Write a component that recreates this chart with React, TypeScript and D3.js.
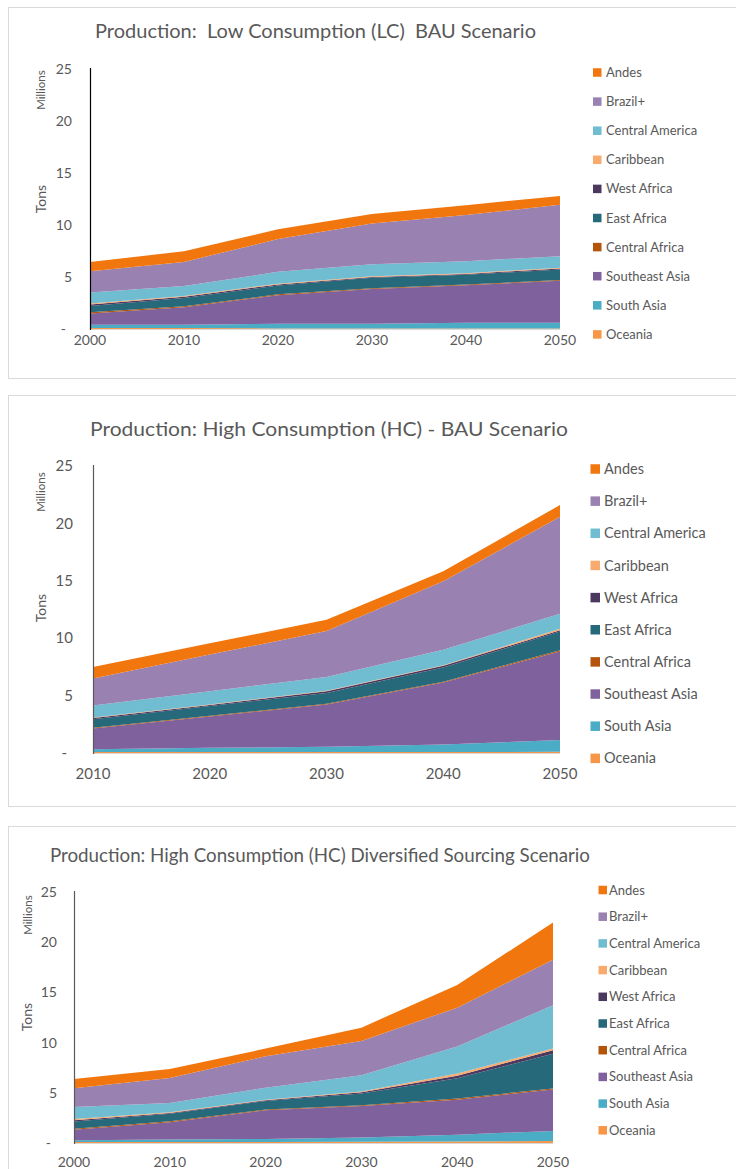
import React from "react";
import * as d3 from "d3";

// ---------- DATA ----------
const regions = ["Oceania", "South Asia", "Southeast Asia", "Central Africa", "East Africa", "West Africa", "Caribbean", "Central America", "Brazil+", "Andes"];
const legendOrder = ["Andes", "Brazil+", "Central America", "Caribbean", "West Africa", "East Africa", "Central Africa", "Southeast Asia", "South Asia", "Oceania"];
const yTicks = [0, 5, 10, 15, 20, 25];

// Chart 1: Low Consumption (LC) BAU
const lcYears = [2000, 2010, 2020, 2030, 2040, 2050];
const lcOceania = [0.1, 0.1, 0.05, 0.05, 0.05, 0.05];
const lcSouthAsia = [0.3, 0.3, 0.45, 0.45, 0.55, 0.55];
const lcSoutheastAsia = [1.1, 1.7, 2.75, 3.35, 3.6, 4.05];
const lcCentralAfrica = [0.1, 0.08, 0.08, 0.07, 0.07, 0.07];
const lcEastAfrica = [0.6, 0.8, 0.85, 1.0, 0.95, 1.0];
const lcWestAfrica = [0.15, 0.12, 0.1, 0.08, 0.08, 0.1];
const lcCaribbean = [0.1, 0.08, 0.07, 0.07, 0.07, 0.08];
const lcCentralAmerica = [1.05, 0.95, 1.15, 1.15, 1.15, 1.1];
const lcBrazil = [2.05, 2.32, 3.15, 3.93, 4.43, 4.95];
const lcAndes = [0.9, 1.02, 0.93, 0.91, 0.95, 0.85];

// Chart 2: High Consumption (HC) BAU
const hcYears = [2010, 2020, 2030, 2040, 2050];
const hcOceania = [0.08, 0.08, 0.08, 0.08, 0.1];
const hcSouthAsia = [0.24, 0.37, 0.47, 0.67, 1.03];
const hcSoutheastAsia = [1.82, 2.73, 3.67, 5.39, 7.72];
const hcCentralAfrica = [0.06, 0.06, 0.06, 0.06, 0.1];
const hcEastAfrica = [0.75, 0.86, 0.94, 1.24, 1.64];
const hcWestAfrica = [0.1, 0.08, 0.15, 0.15, 0.1];
const hcCaribbean = [0.05, 0.05, 0.05, 0.05, 0.13];
const hcCentralAmerica = [1.04, 1.15, 1.2, 1.36, 1.31];
const hcBrazil = [2.34, 3.19, 4.0, 5.96, 8.44];
const hcAndes = [1.02, 0.98, 0.98, 0.87, 1.03];

// Chart 3: High Consumption (HC) Diversified Sourcing
const dsYears = [2000, 2010, 2020, 2030, 2040, 2050];
const dsOceania = [0.1, 0.1, 0.1, 0.12, 0.15, 0.2];
const dsSouthAsia = [0.17, 0.25, 0.3, 0.43, 0.68, 1.0];
const dsSoutheastAsia = [1.06, 1.71, 2.86, 3.14, 3.49, 4.12];
const dsCentralAfrica = [0.1, 0.1, 0.08, 0.07, 0.12, 0.12];
const dsEastAfrica = [0.7, 0.76, 0.85, 1.16, 2.0, 3.46];
const dsWestAfrica = [0.13, 0.08, 0.07, 0.14, 0.27, 0.34];
const dsCaribbean = [0.13, 0.06, 0.06, 0.06, 0.2, 0.16];
const dsCentralAmerica = [1.2, 0.92, 1.19, 1.62, 2.69, 4.31];
const dsBrazil = [1.86, 2.49, 3.13, 3.42, 3.88, 4.55];
const dsAndes = [0.92, 0.9, 0.76, 1.33, 2.26, 3.69];

const colors: Record<string, string> = {
  "Andes": "#F2760E",
  "Brazil+": "#9982B2",
  "Central America": "#70BCD1",
  "Caribbean": "#F9AB6F",
  "West Africa": "#4B385F",
  "East Africa": "#26697B",
  "Central Africa": "#B4540B",
  "Southeast Asia": "#7F619E",
  "South Asia": "#4BACC6",
  "Oceania": "#F79646",
};

function buildRows(years: number[], series: number[][]) {
  return years.map((y, i) => {
    const row: any = { year: y };
    regions.forEach((r, k) => (row[r] = series[k][i]));
    return row;
  });
}

const lcRows = buildRows(lcYears, [lcOceania, lcSouthAsia, lcSoutheastAsia, lcCentralAfrica, lcEastAfrica, lcWestAfrica, lcCaribbean, lcCentralAmerica, lcBrazil, lcAndes]);
const hcRows = buildRows(hcYears, [hcOceania, hcSouthAsia, hcSoutheastAsia, hcCentralAfrica, hcEastAfrica, hcWestAfrica, hcCaribbean, hcCentralAmerica, hcBrazil, hcAndes]);
const dsRows = buildRows(dsYears, [dsOceania, dsSouthAsia, dsSoutheastAsia, dsCentralAfrica, dsEastAfrica, dsWestAfrica, dsCaribbean, dsCentralAmerica, dsBrazil, dsAndes]);

const FONT = "Lato, 'Open Sans', sans-serif";
const GRAY = "#595959";

type Cfg = {
  title: string;
  titleX: number; titleY: number; titleLen: number; titleSize: number;
  panelTop: number; panelBottom: number;
  x0: number; x1: number; yTop: number; yBottom: number;
  axisColor: string;
  tickRight: number; tickSize: number; xLabelY: number;
  millionsX: number; millionsY: number; tonsX: number; tonsY: number;
  legSqX: number; legSq: number; legTextX: number; legY0: number; legStep: number; legSize: number;
  years: number[]; rows: any[];
};

const cfgs: Cfg[] = [
  {
    title: "Production:  Low Consumption (LC)  BAU Scenario",
    titleX: 95, titleY: 38, titleLen: 441, titleSize: 19,
    panelTop: 7.5, panelBottom: 378.5,
    x0: 90, x1: 560, yTop: 69, yBottom: 329, axisColor: "#000",
    tickRight: 72, tickSize: 14, xLabelY: 345,
    millionsX: 45, millionsY: 90, tonsX: 46, tonsY: 199,
    legSqX: 593, legSq: 8.5, legTextX: 606, legY0: 72.5, legStep: 29.1, legSize: 13,
    years: lcYears, rows: lcRows,
  },
  {
    title: "Production: High Consumption (HC) - BAU Scenario",
    titleX: 90, titleY: 436, titleLen: 478, titleSize: 20,
    panelTop: 395.5, panelBottom: 806.5,
    x0: 93, x1: 560, yTop: 466, yBottom: 753, axisColor: GRAY,
    tickRight: 73, tickSize: 15, xLabelY: 779,
    millionsX: 45, millionsY: 492, tonsX: 46, tonsY: 608,
    legSqX: 590.5, legSq: 9.5, legTextX: 604, legY0: 469, legStep: 32.15, legSize: 14.5,
    years: hcYears, rows: hcRows,
  },
  {
    title: "Production: High Consumption (HC) Diversified Sourcing Scenario",
    titleX: 50, titleY: 862, titleLen: 540, titleSize: 18.5,
    panelTop: 826.5, panelBottom: 1200,
    x0: 74, x1: 553, yTop: 892, yBottom: 1143, axisColor: GRAY,
    tickRight: 57, tickSize: 14, xLabelY: 1167,
    millionsX: 32, millionsY: 915, tonsX: 32, tonsY: 1017,
    legSqX: 598.5, legSq: 8.5, legTextX: 609, legY0: 890, legStep: 26.7, legSize: 13,
    years: dsYears, rows: dsRows,
  },
];

function Chart({ c }: { c: Cfg }) {
  const x = d3.scaleLinear().domain([c.years[0], c.years[c.years.length - 1]]).range([c.x0, c.x1]);
  const y = d3.scaleLinear().domain([0, 25]).range([c.yBottom, c.yTop]);
  const stack = d3.stack<any>().keys(regions);
  const layers = stack(c.rows);
  const area = d3
    .area<any>()
    .x((d) => x(d.data.year))
    .y0((d) => y(d[0]))
    .y1((d) => y(d[1]));
  const fmt = (v: number) => (v === 0 ? "-" : String(v));
  return (
    <g>
      <rect x={8.5} y={c.panelTop} width={740} height={c.panelBottom - c.panelTop} fill="#fff" stroke="#D9D9D9" strokeWidth={1} />
      <text x={c.titleX} y={c.titleY} fontFamily={FONT} fontSize={c.titleSize} fill={GRAY} textLength={c.titleLen} lengthAdjust="spacingAndGlyphs" style={{ whiteSpace: "pre" }}>
        {c.title}
      </text>
      {layers.map((l) => (
        <path key={l.key} d={area(l) || ""} fill={colors[l.key]} />
      ))}
      <line x1={c.x0} x2={c.x1} y1={c.yBottom + 0.5} y2={c.yBottom + 0.5} stroke="#D9D9D9" strokeWidth={1} />
      <line x1={c.x0 + 0.5} x2={c.x0 + 0.5} y1={c.yTop - 1} y2={c.yBottom + 1} stroke={c.axisColor} strokeWidth={1.2} />
      {yTicks.map((t) => (
        <text key={t} x={t === 0 ? c.tickRight - 6 : c.tickRight} y={y(t)} dy="0.35em" textAnchor="end" fontFamily={FONT} fontSize={c.tickSize} fill={GRAY}>
          {fmt(t)}
        </text>
      ))}
      {c.years.map((yr) => (
        <text key={yr} x={x(yr)} y={c.xLabelY} textAnchor="middle" fontFamily={FONT} fontSize={c.tickSize} fill={GRAY}>
          {yr}
        </text>
      ))}
      <text transform={`translate(${c.millionsX},${c.millionsY}) rotate(-90)`} textAnchor="middle" fontFamily={FONT} fontSize={11.5} fill={GRAY}>
        Millions
      </text>
      <text transform={`translate(${c.tonsX},${c.tonsY}) rotate(-90)`} textAnchor="middle" fontFamily={FONT} fontSize={14} fill={GRAY}>
        Tons
      </text>
      {legendOrder.map((name, i) => {
        const cy = c.legY0 + i * c.legStep;
        return (
          <g key={name}>
            <rect x={c.legSqX} y={cy - c.legSq / 2} width={c.legSq} height={c.legSq} fill={colors[name]} />
            <text x={c.legTextX} y={cy} dy="0.35em" fontFamily={FONT} fontSize={c.legSize} fill={GRAY}>
              {name}
            </text>
          </g>
        );
      })}
    </g>
  );
}

export default function App() {
  return (
    <svg width={736} height={1169} style={{ position: "absolute", left: 0, top: 0, background: "#fff" }}>
      <rect x={0} y={0} width={736} height={1169} fill="#fff" />
      {cfgs.map((c, i) => (
        <Chart key={i} c={c} />
      ))}
    </svg>
  );
}
